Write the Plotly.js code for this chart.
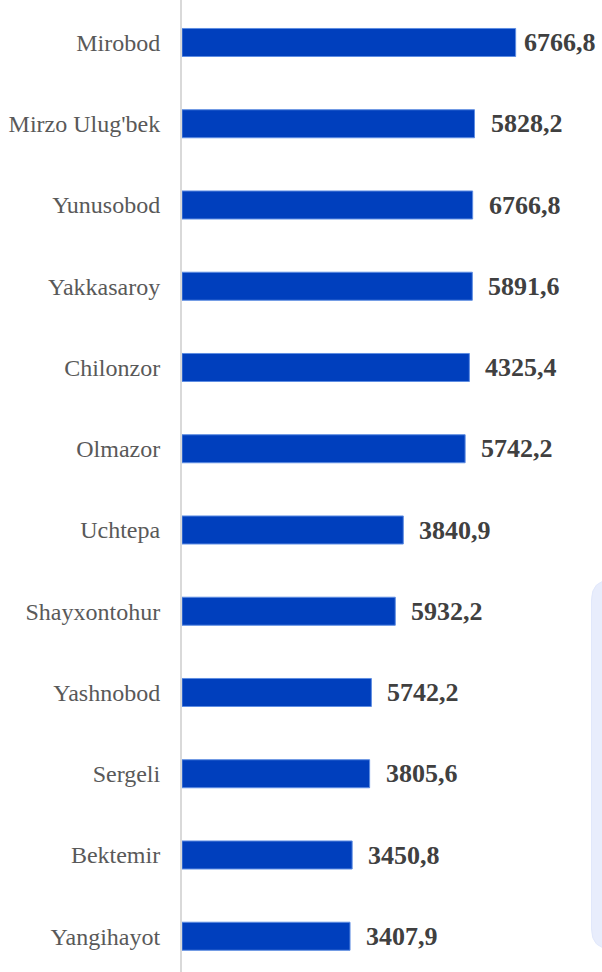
<!DOCTYPE html>
<html>
<head>
<meta charset="utf-8">
<script src="https://cdn.plot.ly/plotly-3.0.1.min.js"></script>
<style>html,body{margin:0;padding:0;background:#fff;}#chart{width:602px;height:972px;}</style>
</head>
<body>
<div id="chart"></div>
<script>
const categories = ["Mirobod","Mirzo Ulug'bek","Yunusobod","Yakkasaroy","Chilonzor","Olmazor","Uchtepa","Shayxontohur","Yashnobod","Sergeli","Bektemir","Yangihayot"];
const barValues = [6766.8, 5932.2, 5895, 5888, 5828.2, 5742.2, 4488, 4325.4, 3840.9, 3805.6, 3450.8, 3407.9];
const valueLabels = ["6766,8","5828,2","6766,8","5891,6","4325,4","5742,2","3840,9","5932,2","5742,2","3805,6","3450,8","3407,9"];

const W = 602, H = 972, L = 182;
const plotW = W - L;
const xMax = 8518;
const pxPerUnit = plotW / xMax;

const annotations = categories.map((c, i) => {
  const endPx = L + barValues[i] * pxPerUnit;
  let shift = 14;
  const estW = 80;
  if (endPx + shift + estW > W) shift = Math.max(4, W - estW - endPx);
  return {
    x: barValues[i], y: c, xref: 'x', yref: 'y',
    text: '<b>' + valueLabels[i] + '</b>', showarrow: false,
    xanchor: 'left', yanchor: 'middle', xshift: shift, yshift: 0,
    font: {family: 'Liberation Serif, Times New Roman, serif', size: 26, color: '#404040'}
  };
});

// rounded panel on the right edge (pixel -> paper)
const px = x => (x - L) / plotW;
const py = y => 1 - y / H;
const bx0 = 591.5, bx1 = 640, by0 = 580, by1 = 949, r = 20;
const panelPath = [
  'M', px(bx0 + r), py(by0),
  'L', px(bx1), py(by0),
  'L', px(bx1), py(by1),
  'L', px(bx0 + r), py(by1),
  'Q', px(bx0), py(by1), px(bx0), py(by1 - r),
  'L', px(bx0), py(by0 + r),
  'Q', px(bx0), py(by0), px(bx0 + r), py(by0),
  'Z'
].join(' ');

const trace = {
  type: 'bar', orientation: 'h',
  x: barValues, y: categories,
  marker: {color: '#003FBD', line: {color: '#5E8DE2', width: 1}},
  hoverinfo: 'none'
};

const layout = {
  width: W, height: H,
  margin: {l: L, r: 0, t: 0, b: 0, pad: 0},
  paper_bgcolor: '#ffffff', plot_bgcolor: '#ffffff',
  showlegend: false,
  bargap: 0.655,
  xaxis: {range: [0, xMax], visible: false, fixedrange: true},
  yaxis: {
    type: 'category', range: [11.44, -0.523],
    showline: true, linecolor: '#d9d9d9', linewidth: 2,
    showgrid: false, zeroline: false, ticks: '',
    ticklabelstandoff: 15,
    tickfont: {family: 'Liberation Serif, Times New Roman, serif', size: 24, color: '#595959'}
  },
  annotations: annotations,
  shapes: [{
    type: 'path', xref: 'paper', yref: 'paper', path: panelPath,
    fillcolor: '#E8EDFC', line: {color: '#E1E8FB', width: 1}, layer: 'below'
  }]
};

Plotly.newPlot('chart', [trace], layout, {staticPlot: true, displayModeBar: false});
</script>
</body>
</html>
